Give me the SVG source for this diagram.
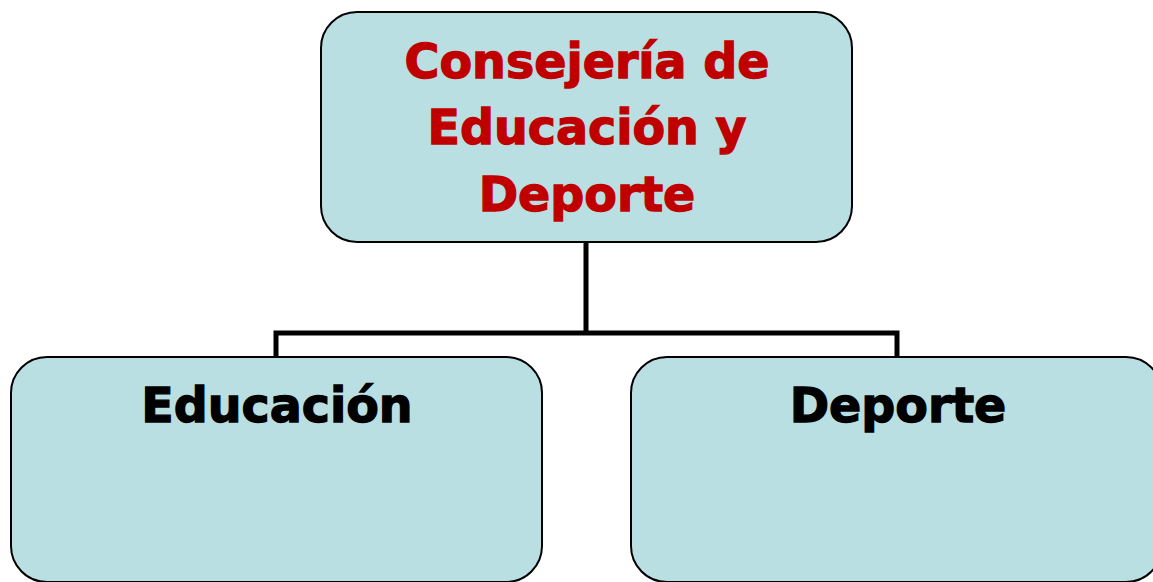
<svg xmlns="http://www.w3.org/2000/svg" width="1153" height="582" viewBox="0 0 1153 582">
<style>
.box{fill:#BADFE3;stroke:#000;stroke-width:2}
.conn{fill:none;stroke:#000;stroke-width:5}
.t{font-family:"DejaVu Sans","Liberation Sans",sans-serif;font-weight:bold;font-size:47.5px;text-anchor:middle;stroke-width:1.3}
.red{fill:#C00000;stroke:#C00000}
.blk{fill:#000;stroke:#000}
</style>
<rect width="1153" height="582" fill="#fff"/>
<g id="connectors">
<path class="conn" d="M586 242V333M276 357V333H897V357"/>
</g>
<g id="node-consejeria">
<rect class="box" x="321" y="12" width="531" height="230" rx="36" ry="36"/>
<text class="t red" x="587" y="78">Consejería de</text>
<text class="t red" x="587" y="144">Educación y</text>
<text class="t red" x="587" y="211">Deporte</text>
</g>
<g id="node-educacion">
<rect class="box" x="11" y="357" width="531" height="225" rx="36" ry="36"/>
<text class="t blk" x="277" y="422">Educación</text>
</g>
<g id="node-deporte">
<rect class="box" x="631" y="357" width="531" height="225" rx="36" ry="36"/>
<text class="t blk" x="898" y="422">Deporte</text>
</g>
</svg>
